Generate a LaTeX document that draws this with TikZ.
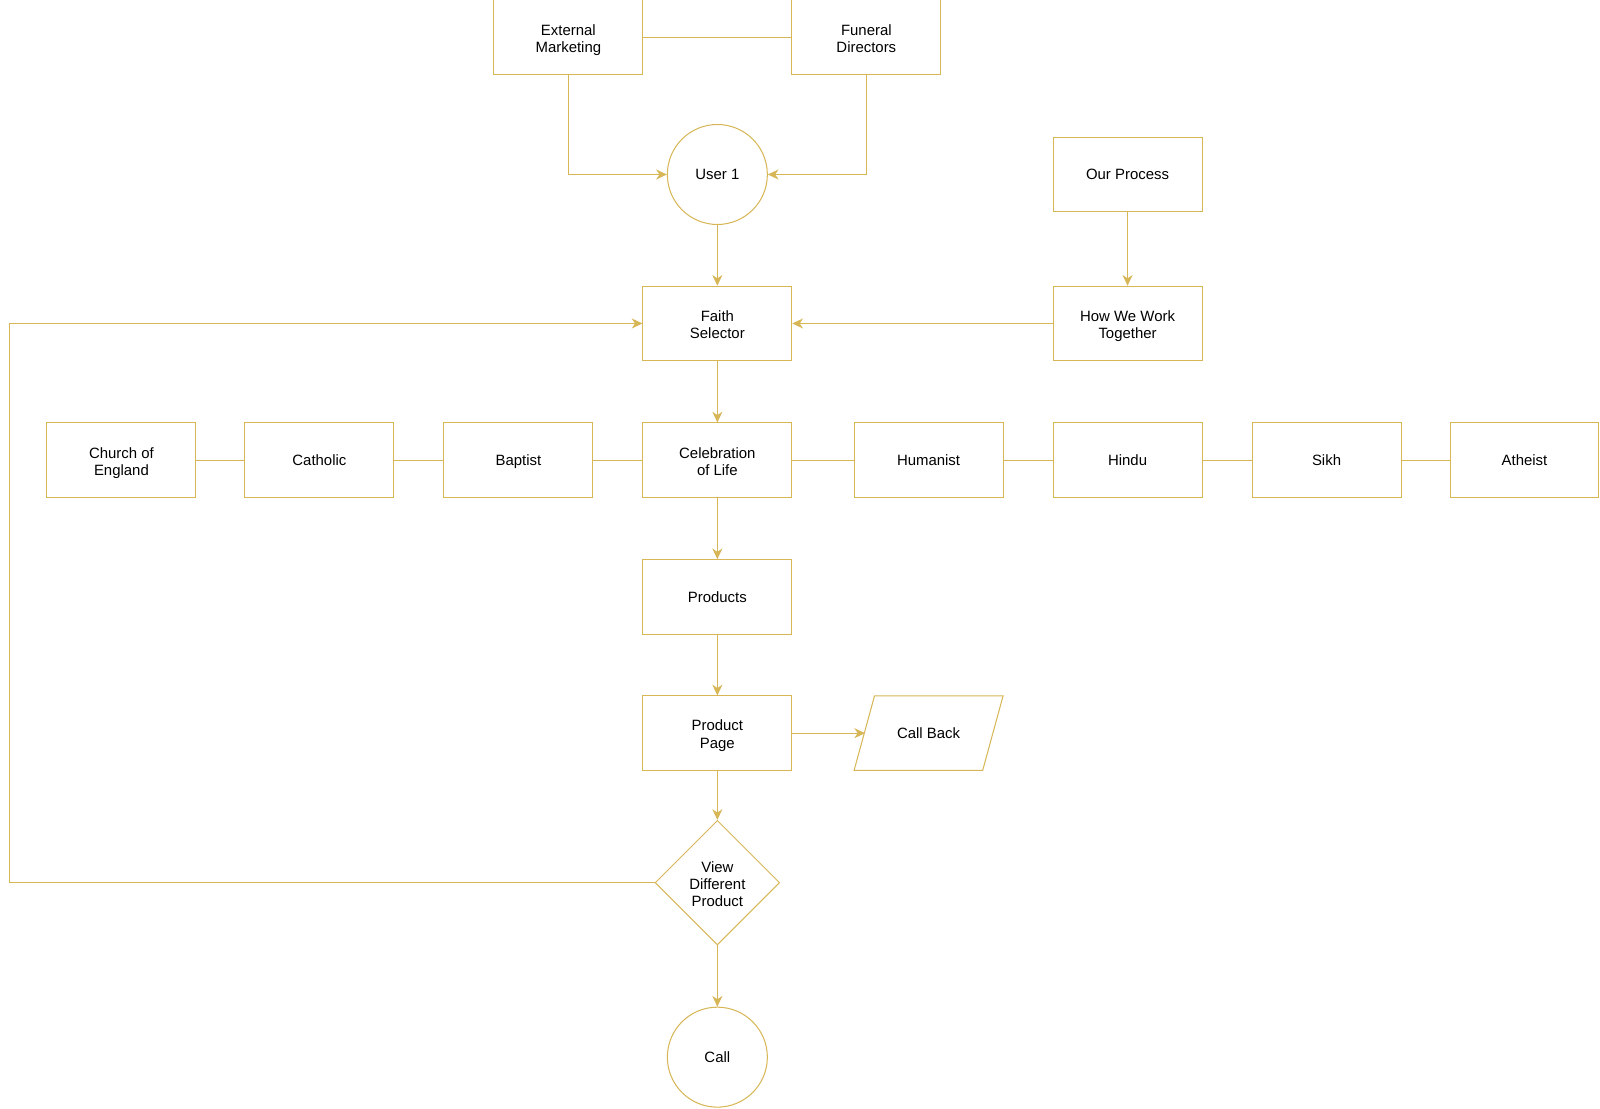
\documentclass[tikz,border=0pt]{standalone}
\usepackage{fontspec}
\setmainfont{Liberation Sans}
\usetikzlibrary{arrows.meta,shapes.geometric}
\definecolor{gold}{HTML}{D6B656}
\newcommand\topstrutx{\rule{0pt}{10.5pt}}
\newcommand\botstrutx{\rule[-2.5pt]{0pt}{2.5pt}}
\newcommand\twotopx{\rule{0pt}{12.2pt}}
\newcommand\threetopx{\rule{0pt}{12.6pt}}
\begin{document}
\begin{tikzpicture}[x=0.7653pt,y=-0.7653pt,
  every node/.style={font=\fontsize{11.2}{13}\selectfont,align=center,text=black,inner sep=0pt,
    execute at begin node={\topstrutx},execute at end node={\botstrutx}},
  box/.style={draw=gold,line width=0.77pt,minimum width=111.7pt,minimum height=55.9pt},
  circ/.style={draw=gold,line width=0.77pt,circle,minimum size=75pt},
  dia/.style={draw=gold,line width=0.77pt,diamond,minimum width=93.4pt,minimum height=93.4pt},
  plain/.style={minimum width=94.9pt,minimum height=55.9pt},
  link/.style={draw=gold,line width=0.77pt},
  arr/.style={link,-{Stealth[length=8pt,width=7.5pt,inset=2.5pt]}}]
\useasboundingbox (0,0) rectangle (1568,1086);
\node[box] (em) at (557,36.5) {\twotopx External\\Marketing};
\node[box] (fd) at (849,36.5) {\twotopx Funeral\\Directors};
\node[circ] (u1) at (703,171) {User 1};
\node[box] (op) at (1105,171) {Our Process};
\node[box] (fs) at (703,317) {\twotopx Faith\\Selector};
\node[box] (hw) at (1105,317) {\twotopx How We Work\\Together};
\node[box] (ce) at (119,451) {\twotopx Church of\\England};
\node[box] (ca) at (313,451) {Catholic};
\node[box] (ba) at (508,451) {Baptist};
\node[box] (cl) at (703,451) {\twotopx Celebration\\of Life};
\node[box] (hu) at (910,451) {Humanist};
\node[box] (hi) at (1105,451) {Hindu};
\node[box] (si) at (1300,451) {Sikh};
\node[box] (at) at (1494,451) {Atheist};
\node[box] (pr) at (703,585) {Products};
\node[box] (pp) at (703,718.5) {\twotopx Product\\Page};
\node[plain] (cb) at (910,718.5) {Call Back};
\draw[link] (857,682) -- (983,682) -- (963,755) -- (837,755) -- cycle;
\node[dia] (vd) at (703,865) {\threetopx View\\Different\\Product};
\node[circ] (ca2) at (703,1036) {Call};
\coordinate (lp) at (9,865);
\draw[link] (em) -- (fd);
\draw[arr] (em.south) |- (u1.west);
\draw[arr] (fd.south) |- (u1.east);
\draw[arr] (u1) -- (fs);
\draw[arr] (op) -- (hw);
\draw[arr] (hw) -- (fs);
\draw[arr] (fs) -- (cl);
\draw[link] (ce) -- (ca);
\draw[link] (ca) -- (ba);
\draw[link] (ba) -- (cl);
\draw[link] (cl) -- (hu);
\draw[link] (hu) -- (hi);
\draw[link] (hi) -- (si);
\draw[link] (si) -- (at);
\draw[arr] (cl) -- (pr);
\draw[arr] (pr) -- (pp);
\draw[arr] (pp) -- (cb);
\draw[arr] (pp) -- (vd);
\draw[arr] (vd) -- (ca2);
\draw[arr] (vd.west) -- (lp) |- (fs.west);
\end{tikzpicture}
\end{document}
